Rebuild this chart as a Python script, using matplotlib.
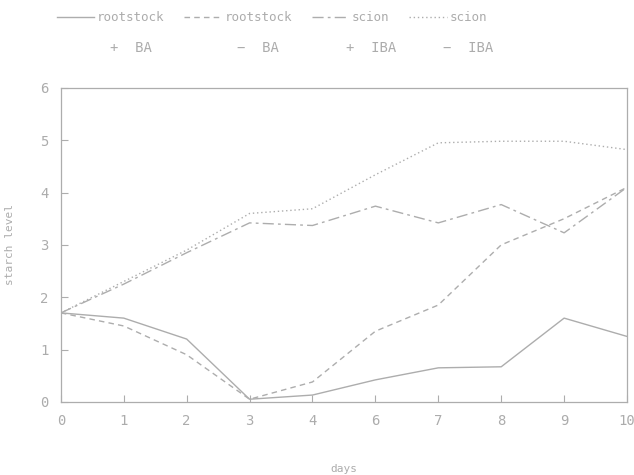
import matplotlib
matplotlib.use("Agg")
import matplotlib.pyplot as plt

# data (day 5 is missing on the axis)
days = ["0", "1", "2", "3", "4", "6", "7", "8", "9", "10"]
rootstock_plus_ba = [1.7, 1.6, 1.2, 0.05, 0.13, 0.42, 0.65, 0.67, 1.6, 1.25]
rootstock_minus_ba = [1.7, 1.45, 0.9, 0.05, 0.38, 1.35, 1.85, 3.0, 3.5, 4.1]
scion_plus_iba = [1.7, 2.25, 2.85, 3.42, 3.37, 3.74, 3.42, 3.77, 3.23, 4.1]
scion_minus_iba = [1.7, 2.3, 2.9, 3.6, 3.69, 4.34, 4.95, 4.98, 4.98, 4.82]

names = ["rootstock", "rootstock", "scion", "scion"]
treatments = ["+  BA", "\u2212  BA", "+  IBA", "\u2212  IBA"]

line_col = "#adadad"
text_col = "#acacac"
plt.rcParams["font.family"] = ["DejaVu Sans Mono"]

fig = plt.figure(figsize=(6.34, 4.75), dpi=100)
ax = fig.add_axes([0.096, 0.154, 0.893, 0.661])

x = list(range(len(days)))
ax.plot(x, rootstock_plus_ba, color=line_col, lw=1.0, ls="-", label=names[0])
ax.plot(x, rootstock_minus_ba, color=line_col, lw=1.0, ls=(0, (4, 3)), label=names[1])
ax.plot(x, scion_plus_iba, color=line_col, lw=1.0, ls=(0, (8, 3, 2, 3)), label=names[2])
ax.plot(x, scion_minus_iba, color=line_col, lw=1.0, ls=(0, (1, 2)), label=names[3])

ax.set_xlim(0, 9)
ax.set_ylim(0, 6)
ax.set_xticks(x)
ax.set_xticklabels(days)
ax.set_yticks(range(7))
ax.tick_params(direction="in", length=5, colors=line_col, labelcolor=text_col,
               labelsize=10, pad=9)
for s in ax.spines.values():
    s.set_color(line_col)
    s.set_linewidth(0.9)

ax.set_xlabel("days", color=text_col, fontsize=8, labelpad=26)
ax.set_ylabel("starch level", color=text_col, fontsize=8, labelpad=18)

leg = fig.legend(loc="upper left", bbox_to_anchor=(0.072, 1.0), ncol=4,
                 frameon=False, fontsize=9, handlelength=3.0, handletextpad=0.2,
                 columnspacing=1.6, labelcolor=text_col)

# second line of each legend entry, centred under its name
fig.canvas.draw()
r = fig.canvas.get_renderer()
for t, tr in zip(leg.get_texts(), treatments):
    bb = t.get_window_extent(r)
    xc = (bb.x0 + bb.x1) / 2 / fig.bbox.width
    fig.text(xc, 0.90, tr, ha="center", va="center", color=text_col, fontsize=10)

fig.savefig("out.png", dpi=100)
